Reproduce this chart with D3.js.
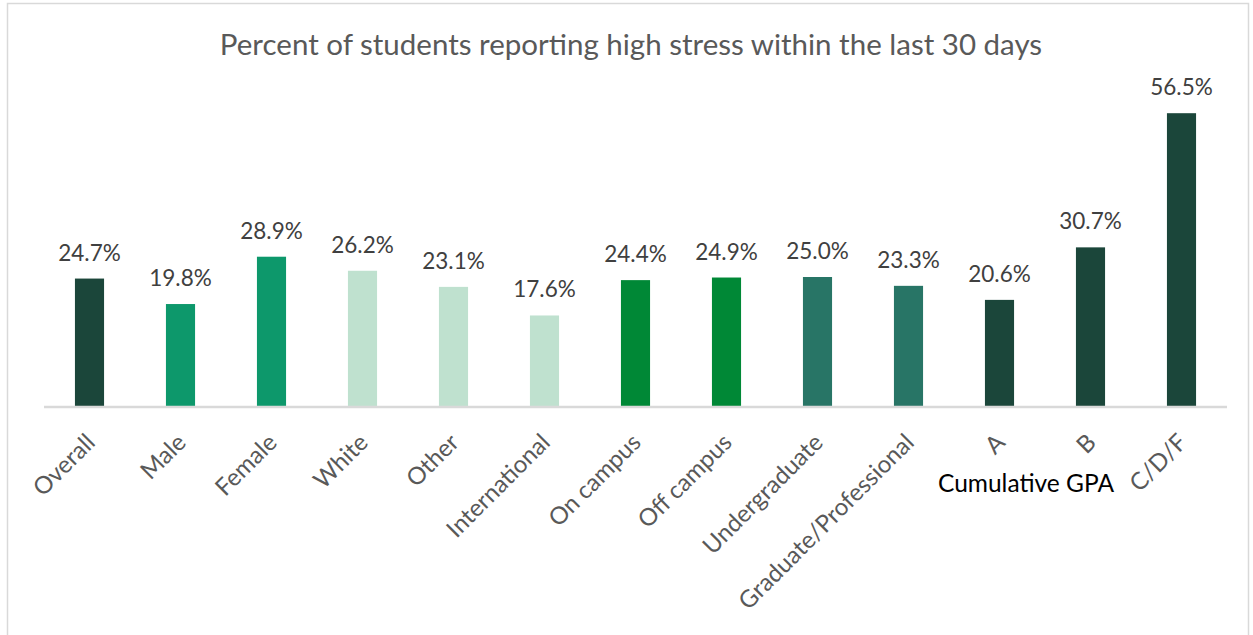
<!DOCTYPE html>
<html>
<head>
<meta charset="utf-8">
<script src="https://cdn.jsdelivr.net/npm/d3@7"></script>
<style>
  html, body { margin: 0; padding: 0; background: #fff; }
  svg { display: block; }
  text { font-family: Lato, "Open Sans", sans-serif; }
</style>
</head>
<body>
<svg id="chart" width="1253" height="635"></svg>
<script>
// Categories and percentage of students reporting high stress
const categories = ["Overall", "Male", "Female", "White", "Other", "International",
  "On campus", "Off campus", "Undergraduate", "Graduate/Professional", "A", "B", "C/D/F"];
const values = [24.7, 19.8, 28.9, 26.2, 23.1, 17.6, 24.4, 24.9, 25.0, 23.3, 20.6, 30.7, 56.5];
// Group each bar belongs to (sets its fill)
const groups = ["overall", "gender", "gender", "race", "race", "race",
  "residence", "residence", "level", "level", "gpa", "gpa", "gpa"];
const groupColors = {
  overall: "#1b463a",
  gender: "#0d986b",
  race: "#bfe1cf",
  residence: "#008836",
  level: "#287566",
  gpa: "#1b463a"
};
const yDomain = [0, 60];

const svg = d3.select("#chart");

// Outer chart frame
svg.append("rect")
  .attr("x", 7.5).attr("y", 3.5)
  .attr("width", 1241).attr("height", 640)
  .attr("fill", "#fff")
  .attr("stroke", "#d9d9d9").attr("stroke-width", 1.5);

const plot = { left: 44, right: 1227, top: 95, bottom: 407 };

const x = d3.scaleBand()
  .domain(categories)
  .range([plot.left, plot.right])
  .paddingInner(0.68).paddingOuter(0.34);

const y = d3.scaleLinear().domain(yDomain).range([plot.bottom, plot.top]);

// Title
svg.append("text")
  .attr("x", 631).attr("y", 55)
  .attr("text-anchor", "middle")
  .attr("fill", "#595959")
  .style("font-size", "29.5px")
  .text("Percent of students reporting high stress within the last 30 days");

// Bars
svg.append("g").selectAll("rect")
  .data(categories)
  .join("rect")
  .attr("x", d => x(d))
  .attr("width", x.bandwidth())
  .attr("y", (d, i) => y(values[i]))
  .attr("height", (d, i) => y(0) - y(values[i]))
  .attr("fill", (d, i) => groupColors[groups[i]]);

// Value labels
svg.append("g").selectAll("text")
  .data(categories)
  .join("text")
  .attr("x", d => x(d) + x.bandwidth() / 2)
  .attr("y", (d, i) => y(values[i]) - 18)
  .attr("text-anchor", "middle")
  .attr("fill", "#404040")
  .style("font-size", "22.5px")
  .text((d, i) => values[i].toFixed(1) + "%");

// Category axis
const axis = svg.append("g")
  .attr("transform", `translate(0,${plot.bottom})`)
  .call(d3.axisBottom(x).tickSize(0).tickPadding(0));
axis.select(".domain")
  .attr("stroke", "#d9d9d9").attr("stroke-width", 2.5)
  .attr("d", `M${plot.left},0H${plot.right}`);
axis.selectAll(".tick text")
  .attr("fill", "#595959")
  .style("font-size", "24px")
  .style("font-family", "Lato, 'Open Sans', sans-serif")
  .attr("text-anchor", "end")
  .attr("dy", "0.35em")
  .attr("transform", "translate(1,31) rotate(-45)")
  .attr("x", 0).attr("y", 0);

// Group caption under the GPA categories
svg.append("text")
  .attr("x", 1026).attr("y", 492)
  .attr("text-anchor", "middle")
  .attr("fill", "#000")
  .style("font-size", "24.5px")
  .text("Cumulative GPA");
</script>
</body>
</html>
